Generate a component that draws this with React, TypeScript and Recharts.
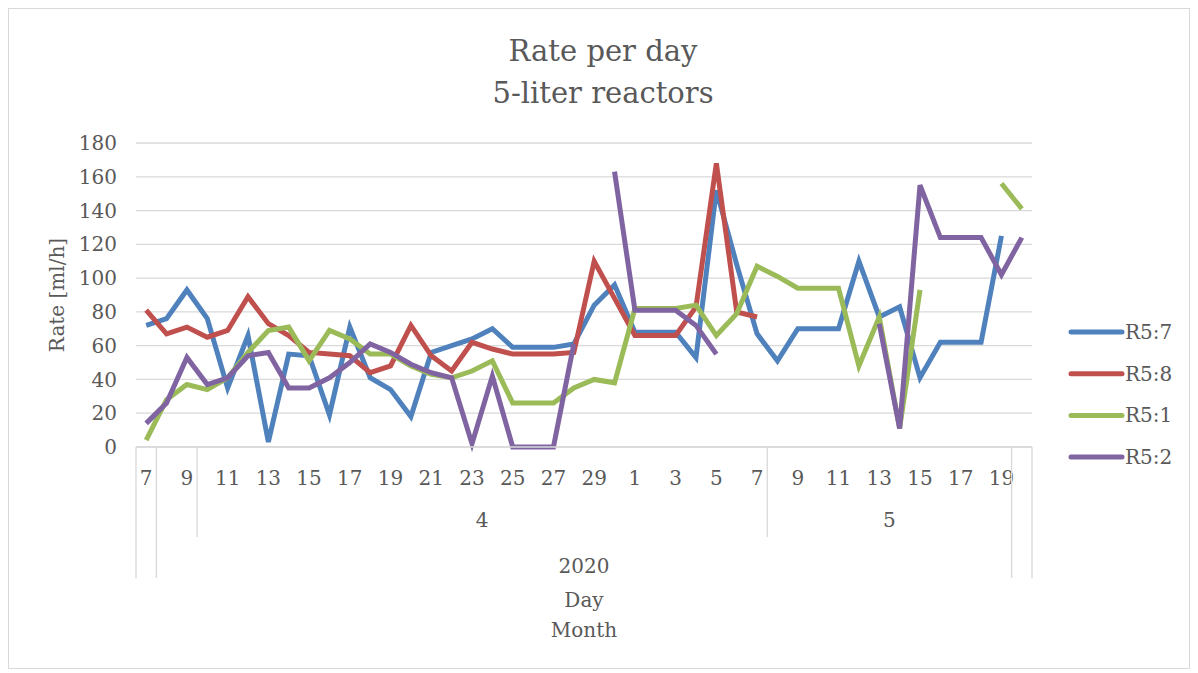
import React from 'react';
import { LineChart, Line, XAxis, YAxis, CartesianGrid, Legend } from 'recharts';

// x axis: day / month / year levels
const days = [7, 8, 9, 10, 11, 12, 13, 14, 15, 16, 17, 18, 19, 20, 21, 22, 23, 24, 25, 26, 27, 28, 29, 30,
  1, 2, 3, 4, 5, 6, 7, 8, 9, 10, 11, 12, 13, 14, 15, 16, 17, 18, 19, 20];
const monthGroups = [
  { label: '', start: 0, end: 0 },
  { label: '', start: 1, end: 2 },
  { label: '4', start: 3, end: 30 },
  { label: '5', start: 31, end: 42 },
  { label: '', start: 43, end: 43 },
];
const yearGroups = [
  { label: '', start: 0, end: 0 },
  { label: '2020', start: 1, end: 42 },
  { label: '', start: 43, end: 43 },
];

const r57 = [72, 76, 93, 76, 35, 66, 3, 55, 54, 19, 71, 41, 34, 18, 56, 60, 64, 70, 59, 59, 59, 61, 84, 96,
  68, 68, 68, 53, 152, 108, 67, 51, 70, 70, 70, 110, 77, 83, 41, 62, 62, 62, 125, null];
const r58 = [81, 67, 71, 65, 69, 89, 73, 66, 56, 55, 54, 44, 48, 72, 54, 45, 62, 58, 55, 55, 55, 56, 110, 88,
  66, 66, 66, 83, 168, 80, 77, null, null, null, null, null, null, null, null, null, null, null, null, null];
const r51 = [4, 28, 37, 34, 41, 56, 69, 71, 51, 69, 64, 55, 55, 48, 43, 41, 45, 51, 26, 26, 26, 35, 40, 38,
  82, 82, 82, 84, 66, 79, 107, 101, 94, 94, 94, 48, 77, 11, 93, null, null, null, 156, 141];
const r52 = [14, 26, 53, 37, 41, 54, 56, 35, 35, 41, 50, 61, 56, 49, 44, 41, 2, 42, 0, 0, 0, 61, null, 163,
  81, 81, 81, 72, 55, null, null, null, null, null, null, null, 73, 11, 155, 124, 124, 124, 102, 124];

const yTicks = [0, 20, 40, 60, 80, 100, 120, 140, 160, 180];

const series = [
  { key: 'r57', name: 'R5:7', color: '#4f81bd' },
  { key: 'r58', name: 'R5:8', color: '#c0504d' },
  { key: 'r51', name: 'R5:1', color: '#9bbb59' },
  { key: 'r52', name: 'R5:2', color: '#8064a2' },
];

const data = days.map((d, i) => ({
  key: String(i),
  day: d,
  r57: r57[i],
  r58: r58[i],
  r51: r51[i],
  r52: r52[i],
}));

const FONT = 'DejaVu Serif';
const TEXT = '#595959';
const GRID = '#d9d9d9';
const W = 1180;
const H = 659;
const MARGIN = { top: 134, right: 157, bottom: 21, left: 67 };
const Y_W = 60;
const X_H = 200;
const PLOT_W = W - MARGIN.left - MARGIN.right - Y_W;
const BAND = PLOT_W / days.length;
const LINE_W = 5;

function DayTick(props: any) {
  const { x, y, payload } = props;
  const i = Number(payload.value);
  const half = BAND / 2;
  const yearStart = yearGroups.find((g) => g.start === i);
  const monthStart = monthGroups.find((g) => g.start === i);
  return (
    <g>
      {i % 2 === 0 && (
        <text x={x} y={y + 38} textAnchor="middle" fill={TEXT} fontSize={20} fontFamily={FONT}>
          {days[i]}
        </text>
      )}
      {yearStart ? (
        <line x1={x - half} x2={x - half} y1={y} y2={y + 131} stroke={GRID} strokeWidth={1.3} />
      ) : monthStart ? (
        <line x1={x - half} x2={x - half} y1={y} y2={y + 90} stroke={GRID} strokeWidth={1.3} />
      ) : null}
      {i === days.length - 1 && (
        <line x1={x + half} x2={x + half} y1={y} y2={y + 131} stroke={GRID} strokeWidth={1.3} />
      )}
      {monthStart && monthStart.label && (
        <text x={x + ((monthStart.end - monthStart.start) * BAND) / 2} y={y + 80} textAnchor="middle"
          fill={TEXT} fontSize={20} fontFamily={FONT}>
          {monthStart.label}
        </text>
      )}
      {yearStart && yearStart.label && (
        <text x={x + ((yearStart.end - yearStart.start) * BAND) / 2} y={y + 126} textAnchor="middle"
          fill={TEXT} fontSize={20} fontFamily={FONT}>
          {yearStart.label}
        </text>
      )}
    </g>
  );
}

function LegendBox(props: any) {
  // keep the series order (recharts sorts the payload by name)
  const items = series
    .map((s) => (props.payload || []).find((p: any) => p.value === s.name))
    .filter(Boolean);
  return (
    <svg width={120} height={170}>
      {items.map((it: any, k: number) => {
        const cy = 20 + k * 41.7;
        return (
          <g key={it.value}>
            <line x1={3} x2={54} y1={cy} y2={cy} stroke={it.color} strokeWidth={LINE_W} strokeLinecap="round" />
            <text x={57} y={cy} dominantBaseline="central" fill={TEXT} fontSize={20} fontFamily={FONT}>
              {it.value}
            </text>
          </g>
        );
      })}
    </svg>
  );
}

export default function App() {
  return (
    <div style={{ position: 'relative', width: W, height: H, border: `1px solid ${GRID}`, background: '#fff' }}>
      <LineChart width={W} height={H} data={data} margin={MARGIN}>
        <CartesianGrid vertical={false} stroke={GRID} strokeWidth={1.3} />
        <XAxis
          dataKey="key"
          interval={0}
          height={X_H}
          tick={(p: any) => <DayTick {...p} />}
          tickLine={false}
          tickSize={0}
          tickMargin={0}
          axisLine={{ stroke: GRID, strokeWidth: 1.3 }}
          padding={{ left: BAND / 2, right: BAND / 2 }}
        />
        <YAxis
          width={Y_W}
          domain={[0, 180]}
          ticks={yTicks}
          axisLine={false}
          tickLine={false}
          tickSize={0}
          tickMargin={19}
          tick={{ fill: TEXT, fontSize: 20, fontFamily: FONT }}
        />
        <Legend
          layout="vertical"
          align="center"
          verticalAlign="middle"
          content={(p: any) => <LegendBox {...p} />}
          wrapperStyle={{ position: 'absolute', left: 1059, top: 303, width: 120, height: 170 }}
        />
        {series.map((s) => (
          <Line
            key={s.key}
            type="linear"
            dataKey={s.key}
            name={s.name}
            stroke={s.color}
            strokeWidth={LINE_W}
            dot={false}
            isAnimationActive={false}
          />
        ))}
      </LineChart>
      <svg width={W} height={H} style={{ position: 'absolute', left: 0, top: 0, pointerEvents: 'none' }}>
        <text x={594} y={52} textAnchor="middle" fill={TEXT} fontSize={29} fontFamily={FONT}>Rate per day</text>
        <text x={594} y={94} textAnchor="middle" fill={TEXT} fontSize={29} fontFamily={FONT}>5-liter reactors</text>
        <text x={48} y={286} transform="rotate(-90 48 286)" textAnchor="middle" dominantBaseline="central"
          fill={TEXT} fontSize={20} fontFamily={FONT}>Rate [ml/h]</text>
        <text x={575} y={598} textAnchor="middle" fill={TEXT} fontSize={20} fontFamily={FONT}>Day</text>
        <text x={575} y={628} textAnchor="middle" fill={TEXT} fontSize={20} fontFamily={FONT}>Month</text>
      </svg>
    </div>
  );
}
